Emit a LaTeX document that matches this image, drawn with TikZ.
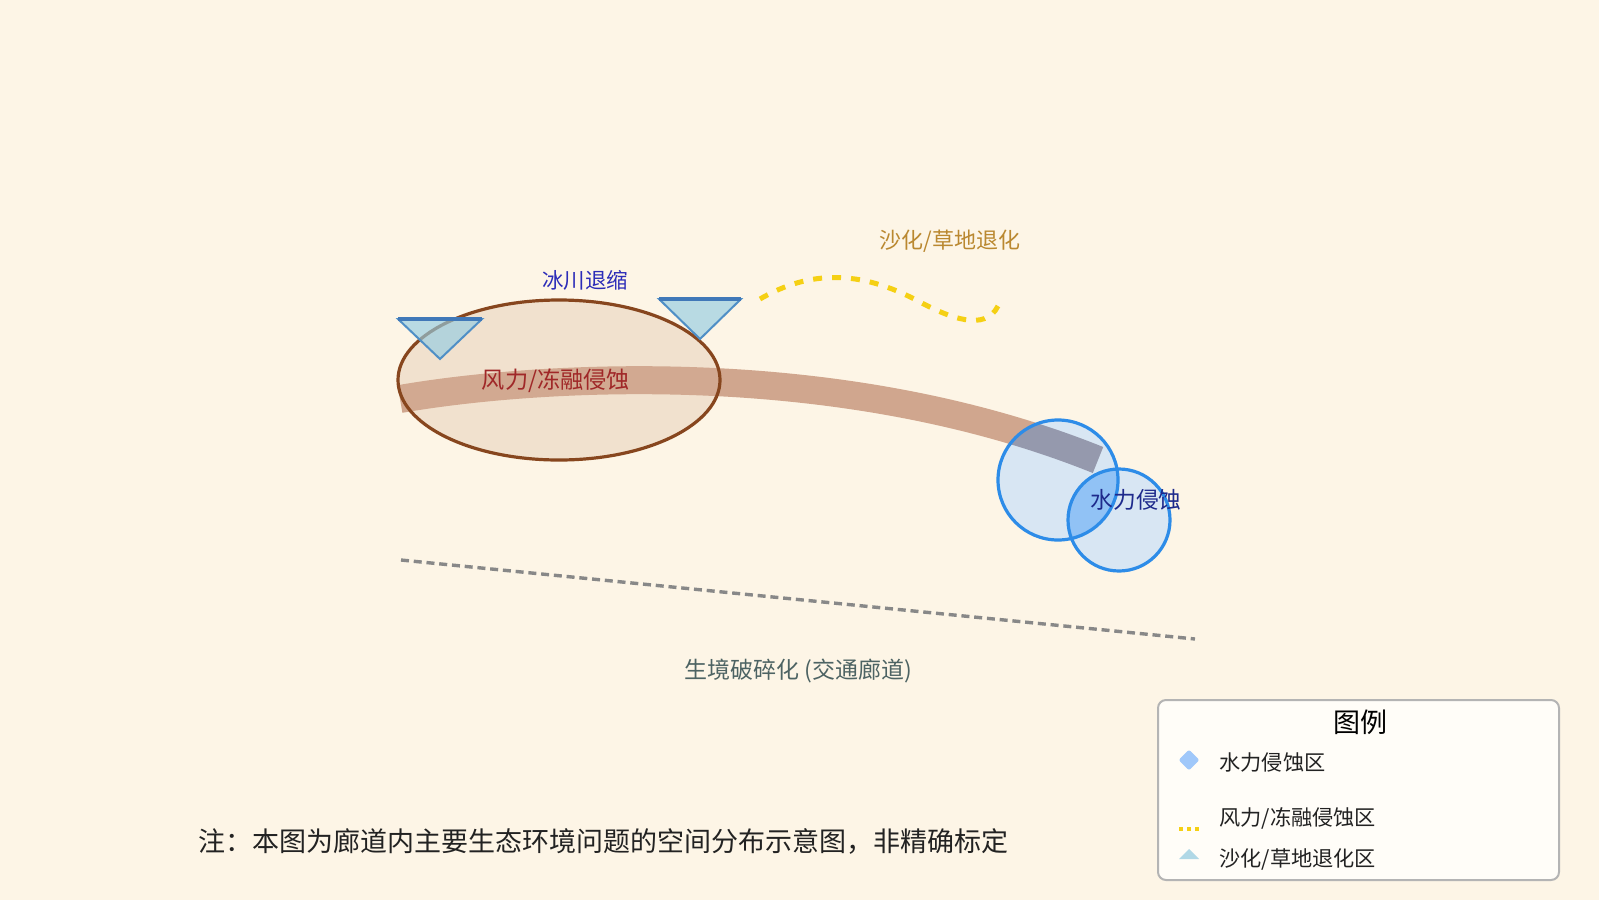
\documentclass[tikz,border=0pt]{standalone}
\usepackage{fontspec}
\setmainfont{Noto Sans CJK SC}
\usetikzlibrary{shapes.geometric}
\definecolor{bg}{RGB}{253,245,230}
\definecolor{bandc}{RGB}{208,166,142}
\definecolor{bandgray}{RGB}{149,153,173}
\definecolor{ellfill}{RGB}{216,179,152}
\definecolor{ellline}{RGB}{135,70,30}
\definecolor{trifill}{RGB}{148,204,226}
\definecolor{triline}{RGB}{79,143,198}
\definecolor{tritop}{RGB}{64,120,184}
\definecolor{wavec}{RGB}{245,208,20}
\definecolor{circfill}{RGB}{216,230,243}
\definecolor{interfill}{RGB}{145,194,245}
\definecolor{circline}{RGB}{45,140,232}
\definecolor{roadc}{RGB}{136,136,136}
\definecolor{redtxt}{RGB}{160,40,40}
\definecolor{bluetxt}{RGB}{44,44,184}
\definecolor{goldtxt}{RGB}{186,136,48}
\definecolor{navytxt}{RGB}{30,42,140}
\definecolor{slatetxt}{RGB}{77,99,99}
\definecolor{legfill}{RGB}{255,253,248}
\definecolor{legline}{RGB}{180,180,180}
\definecolor{legblue}{RGB}{160,200,250}
\definecolor{legtri}{RGB}{176,216,230}
\definecolor{darktxt}{RGB}{34,34,34}
\tikzset{
  bandline/.style={line width=14pt},
  tribody/.style={fill=trifill, fill opacity=0.65, draw=triline, line width=1pt, line join=miter},
  tritopline/.style={draw=tritop, line width=2pt},
  waveline/.style={draw=wavec, line width=2.5pt, dash pattern=on 4.5pt off 5pt},
  roadline/.style={draw=roadc, line width=1.7pt, dash pattern=on 4pt off 2.4pt},
  circstroke/.style={circle, draw=circline, line width=1.6pt, inner sep=0pt},
  lbl/.style={inner sep=0pt},
  legtext/.style={inner sep=0pt, anchor=west, text=darktxt, font=\fontsize{10.6}{12}\selectfont}
}
\begin{document}
\begin{tikzpicture}[x=0.5pt,y=-0.5pt]
\useasboundingbox (0,0) rectangle (1599,900);
\fill[bg] (0,0) rectangle (1599,900);

% wind/freeze-thaw band
\draw[bandline, bandc] (400,399) .. controls (520,378) and (830,352) .. (1098,460);

% glacier ellipse
\node[ellipse, minimum width=161pt, minimum height=80pt, inner sep=0pt,
      fill=ellfill, fill opacity=0.3, draw=ellline, draw opacity=1, line width=1.6pt] (glacier) at (559,380) {};

% glacier triangles
\coordinate (tlA) at (398,319); \coordinate (tlB) at (482,319); \coordinate (tlC) at (440,359);
\coordinate (trA) at (659,299); \coordinate (trB) at (741,299); \coordinate (trC) at (700,339);
\draw[tribody] (tlA) -- (tlB) -- (tlC) -- cycle;
\draw[tritopline] (tlA) -- (tlB);
\draw[tribody] (trA) -- (trB) -- (trC) -- cycle;
\draw[tritopline] (trA) -- (trB);

% desertification wave
\coordinate (w0) at (760,299);
\coordinate (w1) at (918,301);
\coordinate (w2) at (998,306);
\draw[waveline] (w0) .. controls (810,270) and (860,270) .. (w1) .. controls (950,318) and (985,332) .. (w2);

% water erosion circles
\fill[circfill] (1058,480) circle[radius=60];
\fill[circfill] (1119,520) circle[radius=51];
\begin{scope}
  \clip (1058,480) circle[radius=60];
  \fill[interfill] (1119,520) circle[radius=51];
  \draw[bandline, bandgray] (400,399) .. controls (520,378) and (830,352) .. (1098,460);
\end{scope}
\node[circstroke, minimum size=60pt] (bigc) at (1058,480) {};
\node[circstroke, minimum size=51pt] (smallc) at (1119,520) {};

% habitat fragmentation road
\coordinate (r0) at (401,560);
\coordinate (r1) at (1195,639);
\draw[roadline] (r0) -- (r1);

% labels
\node[lbl, text=bluetxt, font=\fontsize{10.75}{12}\selectfont] (lglacier) at (585,280) {冰川退缩};
\node[lbl, text=redtxt, font=\fontsize{11.6}{14}\selectfont] (lwind) at (556,381) {风力/冻融侵蚀};
\node[lbl, text=goldtxt, font=\fontsize{11}{13}\selectfont] (ldesert) at (950,241) {沙化/草地退化};
\node[lbl, text=navytxt, font=\fontsize{11.4}{13}\selectfont] (lwater) at (1136,500) {水力侵蚀};
\node[lbl, text=slatetxt, font=\fontsize{11.5}{13}\selectfont] (lroad) at (798,671) {生境破碎化 (交通廊道)};

% note
\node[lbl, anchor=west, text=darktxt, font=\fontsize{13.5}{15}\selectfont] (note) at (198,841) {注：本图为廊道内主要生态环境问题的空间分布示意图，非精确标定};

% legend
\draw[fill=legfill, draw=legline, line width=1pt, rounded corners=4pt] (1158,700) rectangle (1559,880);
\node[lbl, text=black, font=\fontsize{13.5}{15}\selectfont] (legtitle) at (1360,722) {图例};
\node[diamond, fill=legblue, minimum size=10.5pt, inner sep=0pt, rounded corners=1pt] (legdia) at (1189,760) {};
\node[legtext] (legt1) at (1219,762) {水力侵蚀区};
\fill[wavec] (1179,827) rectangle (1183,831);
\fill[wavec] (1187,827) rectangle (1191,831);
\fill[wavec] (1195,827) rectangle (1199,831);
\node[legtext] (legt2) at (1219,818) {风力/冻融侵蚀区};
\fill[legtri] (1179,859) -- (1199,859) -- (1189,849) -- cycle;
\node[legtext] (legt3) at (1219,859) {沙化/草地退化区};
\end{tikzpicture}
\end{document}
